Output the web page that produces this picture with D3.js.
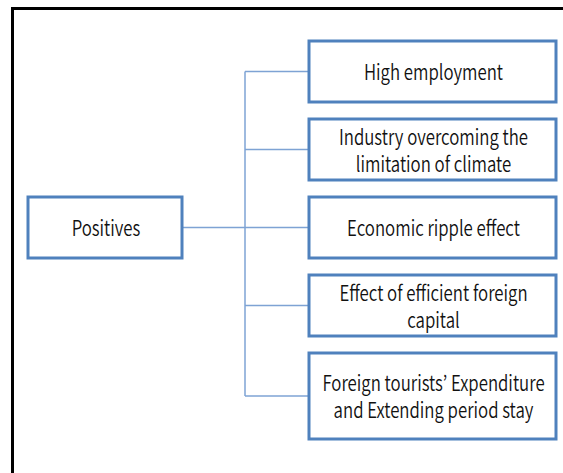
<!DOCTYPE html>
<html>
<head>
<meta charset="utf-8">
<script src="https://cdn.jsdelivr.net/npm/d3@7"></script>
<style>
  html, body { margin: 0; padding: 0; background: #fff; }
  svg { display: block; }
</style>
</head>
<body>
<div id="chart"></div>
<script>
// labels, one array of lines per box
const rootLabel = ["Positives"];
const childLabels = [
  ["High employment"],
  ["Industry overcoming the", "limitation of climate"],
  ["Economic ripple effect"],
  ["Effect of efficient foreign", "capital"],
  ["Foreign tourists\u2019 Expenditure", "and Extending period stay"]
];

const W = 563, H = 473;
const boxColor = "#4f81bd", linkColor = "#7ea3d4";
const fontFam = "'Noto Sans CJK KR', 'Noto Sans', sans-serif";

const svg = d3.select("#chart").append("svg").attr("width", W).attr("height", H);

// outer frame (runs off the right and bottom edge)
svg.append("rect").attr("x", 12.5).attr("y", 8.5).attr("width", 620).attr("height", 520)
  .attr("fill", "none").attr("stroke", "#000").attr("stroke-width", 3);

// layout
const yTop = d3.scaleLinear().domain([0, childLabels.length - 1]).range([41, 353]);
const boxH = i => i === childLabels.length - 1 ? 86 : 61;
const cx = { left: 28, leftW: 154, trunk: 245, right: 309, rightW: 247 };
const rootBox = { x: cx.left, y: 197, w: cx.leftW, h: 61 };

const kids = childLabels.map((lines, i) => ({
  lines, x: cx.right, y: yTop(i), w: cx.rightW, h: boxH(i), cy: yTop(i) + boxH(i) / 2
}));

// connectors
const links = svg.append("g").attr("stroke", linkColor).attr("stroke-width", 1.5).attr("fill", "none");
links.append("line").attr("x1", cx.trunk).attr("x2", cx.trunk)
  .attr("y1", kids[0].cy).attr("y2", kids[kids.length - 1].cy);
links.selectAll("line.br").data(kids).enter().append("line").attr("class", "br")
  .attr("x1", cx.trunk).attr("x2", cx.right).attr("y1", d => d.cy).attr("y2", d => d.cy);
links.append("line").attr("x1", rootBox.x + rootBox.w).attr("x2", cx.trunk)
  .attr("y1", rootBox.y + rootBox.h / 2).attr("y2", rootBox.y + rootBox.h / 2);

// boxes
const all = [{ lines: rootLabel, ...rootBox }].concat(kids);
const g = svg.selectAll("g.box").data(all).enter().append("g").attr("class", "box");
g.append("rect").attr("x", d => d.x).attr("y", d => d.y).attr("width", d => d.w).attr("height", d => d.h)
  .attr("fill", "#fff").attr("stroke", boxColor).attr("stroke-width", 3);

const lh = 27;
g.each(function(d) {
  const cxm = d.x + d.w / 2, cym = d.y + d.h / 2;
  const t = d3.select(this).append("g")
    .attr("transform", `translate(${cxm + 1},${cym + 1}) scale(0.8,1)`);
  d.lines.forEach((s, k) => {
    t.append("text").attr("x", 0)
      .attr("y", (k - (d.lines.length - 1) / 2) * lh)
      .attr("dy", "0.36em")
      .attr("text-anchor", "middle")
      .attr("font-family", fontFam).attr("font-size", 21).attr("font-weight", 350)
      .attr("fill", "#111").text(s);
  });
});
</script>
</body>
</html>
